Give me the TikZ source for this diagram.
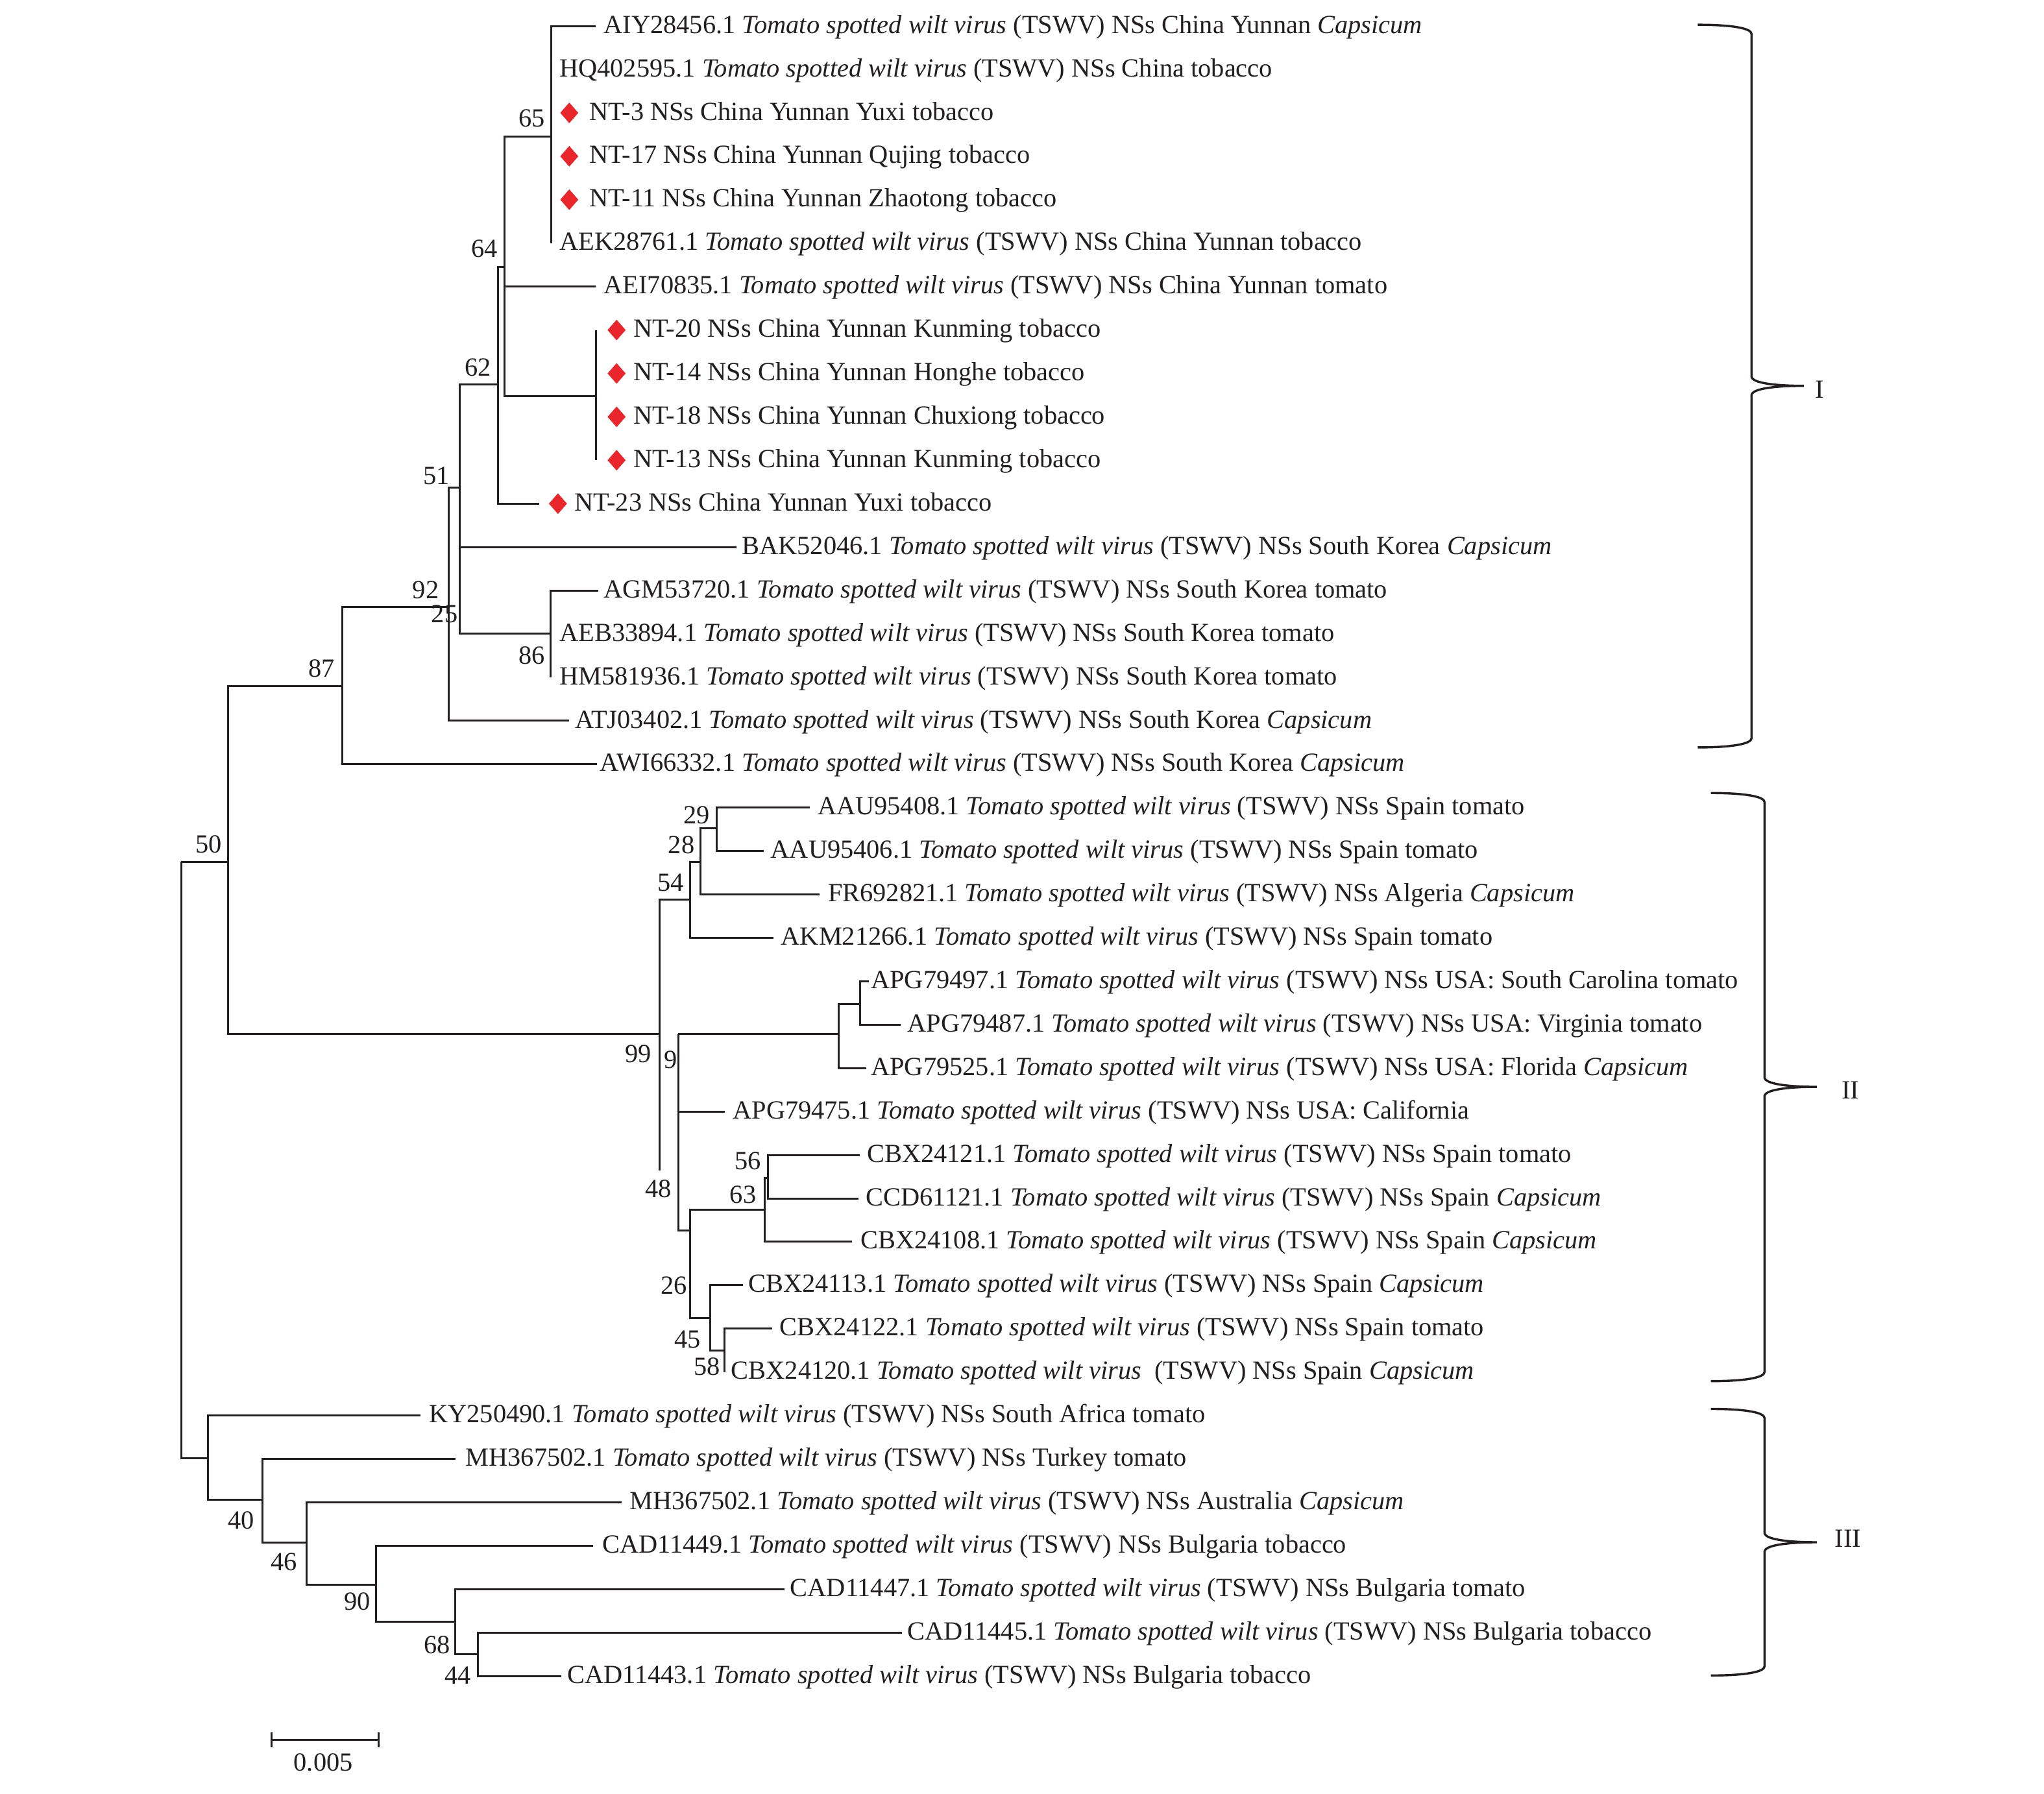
\documentclass[tikz,border=0pt]{standalone}
\usepackage{fontspec}
\setmainfont{Liberation Serif}
\usetikzlibrary{shapes.geometric}
\definecolor{treeline}{HTML}{231F20}
\definecolor{ntred}{HTML}{E8262B}
\newcommand{\tswv}{\textit{Tomato spotted wilt virus} (TSWV) NSs}
% brace round a clade: x of the ends, top, middle, bottom
\newcommand{\cladebrace}[4]{%
  \draw[brace] (#1,#2) .. controls ({#1+28},#2) and ({#1+41.2},{#2+3}) .. ({#1+41.2},{#2+7})
    -- ({#1+41.2},{#3-7}) .. controls ({#1+42},{#3-2}) and ({#1+60},#3) .. ({#1+81.3},#3)
    .. controls ({#1+60},#3) and ({#1+42},{#3+2}) .. ({#1+41.2},{#3+7})
    -- ({#1+41.2},{#4-7}) .. controls ({#1+41.2},{#4-3}) and ({#1+28},#4) .. (#1,#4);}
\begin{document}
\begin{tikzpicture}[x=1pt,y=-1pt,
  br/.style={draw=treeline, line width=1.5pt},
  brace/.style={draw=treeline, line width=1.7pt},
  tip/.style={anchor=base west, inner sep=0pt, text=treeline, font=\fontsize{20.1}{24}\selectfont},
  boot/.style={inner sep=0pt, text=treeline, font=\fontsize{20.1}{24}\selectfont},
  ntmark/.style={diamond, fill=ntred, inner sep=0pt, minimum width=14pt, minimum height=16pt}]
\useasboundingbox (0,0) rectangle (1568,1376);

% tips of clade I
\coordinate (AIY) at (457,20);
\coordinate (HQ) at (422.8,53.3);
\coordinate (NT3) at (422.8,86.6);
\coordinate (NT17) at (422.8,119.9);
\coordinate (NT11) at (422.8,153.2);
\coordinate (AEK) at (422.8,186.6);
\coordinate (AEI) at (457,219.9);
\coordinate (NT20) at (457,253.2);
\coordinate (NT14) at (457,286.5);
\coordinate (NT18) at (457,319.8);
\coordinate (NT13) at (457,353.1);
\coordinate (NT23) at (413.5,386.4);
\coordinate (BAK) at (565,419.7);
\coordinate (AGM) at (459,453.0);
\coordinate (AEB) at (422.4,486.3);
\coordinate (HMa) at (422.4,519.7);
\coordinate (ATJ) at (436.6,553.0);
\coordinate (AWI) at (458,586.3);
% tips of clade II
\coordinate (AAUa) at (621.3,619.6);
\coordinate (AAUb) at (586,652.9);
\coordinate (FR) at (628.8,686.2);
\coordinate (AKM) at (593.2,719.5);
\coordinate (APGa) at (666.7,752.8);
\coordinate (APGb) at (690.7,786.1);
\coordinate (APGc) at (664.5,819.4);
\coordinate (APGd) at (555.8,852.8);
\coordinate (CBXa) at (659.5,886.1);
\coordinate (CCD) at (658.7,919.4);
\coordinate (CBXb) at (653.7,952.7);
\coordinate (CBXc) at (569.9,986.0);
\coordinate (CBXd) at (592.3,1019.3);
\coordinate (CBXe) at (555.8,1052.6);
% tips of clade III
\coordinate (KY) at (322.7,1085.9);
\coordinate (MHa) at (349.4,1119.2);
\coordinate (MHb) at (477.1,1152.5);
\coordinate (CADa) at (454.8,1185.9);
\coordinate (CADb) at (601.8,1219.2);
\coordinate (CADc) at (692,1252.5);
\coordinate (CADd) at (430.6,1285.8);

% inner nodes
\coordinate (root) at (139.1,661.2);
\coordinate (n50) at (175.2,661.2);
\coordinate (n87) at (262.4,526.2);
\coordinate (n92) at (344.3,465.7);
\coordinate (n51) at (352.6,374);
\coordinate (n62) at (382,295);
\coordinate (n64) at (386.8,205);
\coordinate (n65) at (422.8,105);
\coordinate (nkm) at (457,304);
\coordinate (n86) at (422.4,486.3);
\coordinate (n99) at (506.1,793.4);
\coordinate (n48) at (506.1,898.2);
\coordinate (n54) at (529.6,690.4);
\coordinate (n28) at (537.2,661.4);
\coordinate (n29) at (550,635.5);
\coordinate (n9) at (520.2,793.4);
\coordinate (nusa) at (643.3,793.4);
\coordinate (nusb) at (660,770.2);
\coordinate (n26) at (529.6,943.9);
\coordinate (n63) at (586.5,928);
\coordinate (n56) at (589,903.7);
\coordinate (n45) at (545,1011.3);
\coordinate (n58) at (555.8,1036.1);
\coordinate (n3) at (159.6,1118.6);
\coordinate (n40) at (201.3,1150.6);
\coordinate (n46) at (235.1,1183.6);
\coordinate (n90) at (288.4,1215.6);
\coordinate (n68) at (349.4,1244.4);
\coordinate (n44) at (366.4,1268.9);

% branches
\draw[br] (root) -- (n50) (root) |- (n3)
  (n50) |- (n87) (n50) |- (n99)
  (n87) |- (n92) (n87) |- (AWI)
  (n92) |- (n51) (n92) |- (ATJ)
  (n51) |- (n62) (n51) |- (BAK) (n51) |- (n86)
  (n62) |- (n64) (n62) |- (NT23)
  (n64) |- (n65) (n64) |- (AEI) (n64) |- (nkm)
  (n65) |- (AIY) (n65) |- (AEK)
  (nkm) |- (NT20) (nkm) |- (NT13)
  (n86) |- (AGM) (n86) |- (HMa);
\draw[br] (n99) |- (n54) (n99) -- (n48)
  (n54) |- (n28) (n54) |- (AKM)
  (n28) |- (n29) (n28) |- (FR)
  (n29) |- (AAUa) (n29) |- (AAUb)
  (n9) -- (nusa) (n9) |- (APGd) (n9) |- (n26)
  (nusa) |- (nusb) (nusa) |- (APGc)
  (nusb) |- (APGa) (nusb) |- (APGb)
  (n26) |- (n63) (n26) |- (n45)
  (n63) |- (n56) (n63) |- (CBXb)
  (n56) |- (CBXa) (n56) |- (CCD)
  (n45) |- (CBXc) (n45) |- (n58)
  (n58) |- (CBXd) (n58) |- (CBXe);
\draw[br] (n3) |- (KY) (n3) |- (n40)
  (n40) |- (MHa) (n40) |- (n46)
  (n46) |- (MHb) (n46) |- (n90)
  (n90) |- (CADa) (n90) |- (n68)
  (n68) |- (CADb) (n68) |- (n44)
  (n44) |- (CADc) (n44) |- (CADd);

% isolates of this study
\node[ntmark] (d3) at (436.7,86.6) {};
\node[ntmark] (d17) at (436.7,119.9) {};
\node[ntmark] (d11) at (436.7,153.2) {};
\node[ntmark] (d20) at (473,253.2) {};
\node[ntmark] (d14) at (473,286.5) {};
\node[ntmark] (d18) at (473,319.8) {};
\node[ntmark] (d13) at (473,353.1) {};
\node[ntmark] (d23) at (428,386.4) {};

% tip labels
\node[tip] (t1) at (463,25.5) {AIY28456.1 \tswv{} China Yunnan \textit{Capsicum}};
\node[tip] (t2) at (429,58.8) {HQ402595.1 \tswv{} China tobacco};
\node[tip] (t3) at (452,92.1) {NT-3 NSs China Yunnan Yuxi tobacco};
\node[tip] (t4) at (452,125.4) {NT-17 NSs China Yunnan Qujing tobacco};
\node[tip] (t5) at (452,158.7) {NT-11 NSs China Yunnan Zhaotong tobacco};
\node[tip] (t6) at (429,192.1) {AEK28761.1 \tswv{} China Yunnan tobacco};
\node[tip] (t7) at (463,225.4) {AEI70835.1 \tswv{} China Yunnan tomato};
\node[tip] (t8) at (486,258.7) {NT-20 NSs China Yunnan Kunming tobacco};
\node[tip] (t9) at (486,292) {NT-14 NSs China Yunnan Honghe tobacco};
\node[tip] (t10) at (486,325.3) {NT-18 NSs China Yunnan Chuxiong tobacco};
\node[tip] (t11) at (486,358.6) {NT-13 NSs China Yunnan Kunming tobacco};
\node[tip] (t12) at (440.5,391.9) {NT-23 NSs China Yunnan Yuxi tobacco};
\node[tip] (t13) at (569,425.2) {BAK52046.1 \tswv{} South Korea \textit{Capsicum}};
\node[tip] (t14) at (463,458.5) {AGM53720.1 \tswv{} South Korea tomato};
\node[tip] (t15) at (429,491.8) {AEB33894.1 \tswv{} South Korea tomato};
\node[tip] (t16) at (429,525.2) {HM581936.1 \tswv{} South Korea tomato};
\node[tip] (t17) at (441,558.5) {ATJ03402.1 \tswv{} South Korea \textit{Capsicum}};
\node[tip] (t18) at (460,591.8) {AWI66332.1 \tswv{} South Korea \textit{Capsicum}};
\node[tip] (t19) at (627,625.1) {AAU95408.1 \tswv{} Spain tomato};
\node[tip] (t20) at (591,658.4) {AAU95406.1 \tswv{} Spain tomato};
\node[tip] (t21) at (635,691.7) {FR692821.1 \tswv{} Algeria \textit{Capsicum}};
\node[tip] (t22) at (599,725) {AKM21266.1 \tswv{} Spain tomato};
\node[tip] (t23) at (668,758.3) {APG79497.1 \tswv{} USA: South Carolina tomato};
\node[tip] (t24) at (696,791.6) {APG79487.1 \tswv{} USA: Virginia tomato};
\node[tip] (t25) at (668,824.9) {APG79525.1 \tswv{} USA: Florida \textit{Capsicum}};
\node[tip] (t26) at (562,858.3) {APG79475.1 \tswv{} USA: California};
\node[tip] (t27) at (665,891.6) {CBX24121.1 \tswv{} Spain tomato};
\node[tip] (t28) at (664,924.9) {CCD61121.1 \tswv{} Spain \textit{Capsicum}};
\node[tip] (t29) at (660,958.2) {CBX24108.1 \tswv{} Spain \textit{Capsicum}};
\node[tip] (t30) at (574,991.5) {CBX24113.1 \tswv{} Spain \textit{Capsicum}};
\node[tip] (t31) at (598,1024.8) {CBX24122.1 \tswv{} Spain tomato};
\node[tip] (t32) at (560.7,1058.1) {CBX24120.1 \textit{Tomato spotted wilt virus}\ \ (TSWV) NSs Spain \textit{Capsicum}};
\node[tip] (t33) at (329,1091.4) {KY250490.1 \tswv{} South Africa tomato};
\node[tip] (t34) at (357,1124.7) {MH367502.1 \tswv{} Turkey tomato};
\node[tip] (t35) at (483,1158) {MH367502.1 \tswv{} Australia \textit{Capsicum}};
\node[tip] (t36) at (462,1191.4) {CAD11449.1 \tswv{} Bulgaria tobacco};
\node[tip] (t37) at (606,1224.7) {CAD11447.1 \tswv{} Bulgaria tomato};
\node[tip] (t38) at (696,1258) {CAD11445.1 \tswv{} Bulgaria tobacco};
\node[tip] (t39) at (435,1291.3) {CAD11443.1 \tswv{} Bulgaria tobacco};

% bootstrap values
\node[boot] (b65) at (408,91) {65};
\node[boot] (b64) at (371.7,191) {64};
\node[boot] (b62) at (366.7,282) {62};
\node[boot] (b51) at (335,365) {51};
\node[boot] (b92) at (326.6,452.4) {92};
\node[boot] (b25) at (341,471) {25};
\node[boot] (b86) at (408,503) {86};
\node[boot] (b87) at (246.6,513) {87};
\node[boot] (b50) at (160.1,647.9) {50};
\node[boot] (b29) at (534.3,625.5) {29};
\node[boot] (b28) at (522.7,648.3) {28};
\node[boot] (b54) at (514.4,677.3) {54};
\node[boot] (b99) at (489.5,808.3) {99};
\node[boot] (b9) at (514.4,812.9) {9};
\node[boot] (b48) at (505.2,911.9) {48};
\node[boot] (b56) at (573.7,890.6) {56};
\node[boot] (b63) at (570,916.5) {63};
\node[boot] (b26) at (516.8,986.4) {26};
\node[boot] (b45) at (527.6,1027.8) {45};
\node[boot] (b58) at (542.5,1048.5) {58};
\node[boot] (b40) at (185,1166.2) {40};
\node[boot] (b46) at (218,1198.2) {46};
\node[boot] (b90) at (273.9,1228.4) {90};
\node[boot] (b68) at (335.4,1262.2) {68};
\node[boot] (b44) at (351.2,1285.3) {44};

% clades
\cladebrace{1302.4}{19}{296}{573.4}
\cladebrace{1312.4}{608.4}{833.8}{1059.6}
\cladebrace{1312.4}{1080.9}{1183.2}{1285.4}
\node[boot] (cI) at (1396,299) {I};
\node[boot] (cII) at (1419.4,836.4) {II};
\node[boot] (cIII) at (1417.7,1180.5) {III};

% scale bar
\coordinate (sbl) at (208.2,1334.9);
\coordinate (sbr) at (290.4,1334.9);
\draw[br] (sbl) -- (sbr) (208.2,1329) -- (208.2,1340.7) (290.4,1329) -- (290.4,1340.7);
\node[boot] (sb) at (248,1352.3) {0.005};
\end{tikzpicture}
\end{document}
